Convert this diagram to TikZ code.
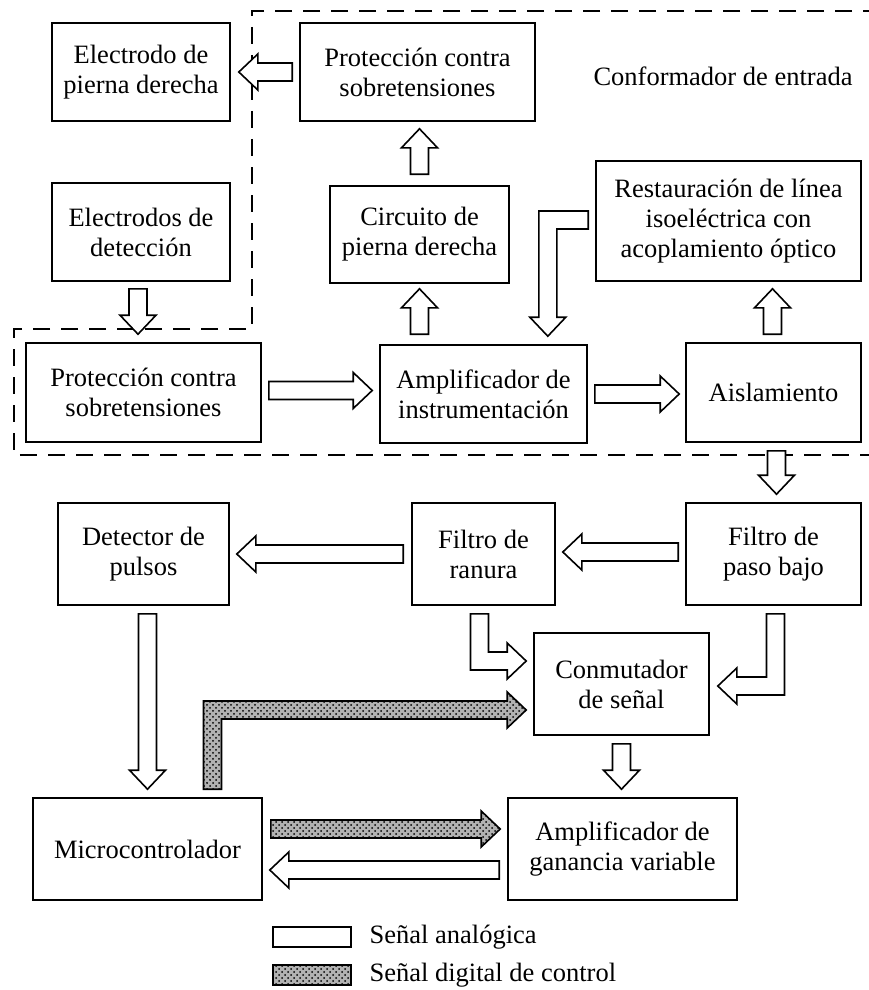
\documentclass[tikz,border=0pt]{standalone}
\usepackage{fontspec}
\setmainfont{Liberation Serif}
\usetikzlibrary{calc, patterns, positioning}

% block arrow sizes
\newcommand{\arrsw}{4.5pt}
\newcommand{\arrhw}{9pt}
\newcommand{\arrhl}{9.5pt}

% straight block arrow: start, tip
\newcommand{\sarrow}[3][analog]{%
  \draw[#1] let \p1=#2, \p2=#3, \n1={atan2(\y2-\y1,\x2-\x1)} in
    ($(\p1)+(\n1+90:\arrsw)$) -- ($(\p2)+(\n1+180:\arrhl)+(\n1+90:\arrsw)$)
    -- ($(\p2)+(\n1+180:\arrhl)+(\n1+90:\arrhw)$) -- (\p2)
    -- ($(\p2)+(\n1+180:\arrhl)+(\n1-90:\arrhw)$) -- ($(\p2)+(\n1+180:\arrhl)+(\n1-90:\arrsw)$)
    -- ($(\p1)+(\n1-90:\arrsw)$) -- cycle;}

% bent block arrow: start, corner, tip
\newcommand{\larrow}[4][analog]{%
  \draw[#1] let \p1=#2, \p2=#3, \p3=#4,
    \n1={atan2(\y2-\y1,\x2-\x1)}, \n2={atan2(\y3-\y2,\x3-\x2)} in
    ($(\p1)+(\n1+90:\arrsw)$) -- ($(\p2)+(\n1+90:\arrsw)+(\n2+90:\arrsw)$)
    -- ($(\p3)+(\n2+180:\arrhl)+(\n2+90:\arrsw)$) -- ($(\p3)+(\n2+180:\arrhl)+(\n2+90:\arrhw)$)
    -- (\p3) -- ($(\p3)+(\n2+180:\arrhl)+(\n2-90:\arrhw)$) -- ($(\p3)+(\n2+180:\arrhl)+(\n2-90:\arrsw)$)
    -- ($(\p2)+(\n1-90:\arrsw)+(\n2-90:\arrsw)$) -- ($(\p1)+(\n1-90:\arrsw)$) -- cycle;}

\begin{document}
\begin{tikzpicture}[x=0.5pt, y=-0.5pt, line width=0.8pt,
    txt/.style={font=\fontsize{13.25}{15}\selectfont},
    block/.style={draw, txt, align=center, inner sep=0pt},
    bsize/.style 2 args={minimum width=#1*0.5pt, minimum height=#2*0.5pt},
    analog/.style={draw, fill=white},
    digital/.style={draw, fill=black!30, postaction={pattern=crosshatch dots}}]
  \useasboundingbox (0,0) rectangle (868,990);

  % input stage region
  \draw[dash pattern=on 8.5pt off 5.5pt] (880,11) -- (252,11) -- (252,329) -- (14,329)
    -- (14,455) -- (880,455);
  \node[txt] (conf) at (723,76) {Conformador de entrada};

  % input stage blocks
  \node[block, bsize={178}{98}] (elpd) at (141,72) {Electrodo de\\pierna derecha};
  \node[block, bsize={235}{98}] (prot1) at (417.5,72) {Protección contra\\sobretensiones};
  \node[block, bsize={178}{98}] (eldet) at (141,232) {Electrodos de\\detección};
  \node[block, bsize={179}{97}] (circ) at (419.5,234.5) {Circuito de\\pierna derecha};
  \node[block, bsize={265}{120}] (rest) at (728.5,221) {Restauración de línea\\isoeléctrica con\\acoplamiento óptico};
  \node[block, bsize={235}{99}] (prot2) at (143.5,392.5) {Protección contra\\sobretensiones};
  \node[block, bsize={207}{98}] (ampi) at (483.5,394) {Amplificador de\\instrumentación};
  \node[block, bsize={175}{99}] (aisl) at (773.5,392.5) {Aislamiento};

  % processing blocks
  \node[block, bsize={171}{102}] (detp) at (143.5,554) {Detector de\\pulsos};
  \node[block, bsize={143}{102}] (fran) at (483.5,554) {Filtro de\\ranura};
  \node[block, bsize={175}{102}] (fpb) at (773.5,554) {Filtro de\\paso bajo};
  \node[block, bsize={175}{102}] (conm) at (621.5,684) {Conmutador\\de señal};
  \node[block, bsize={229}{102}] (micro) at (147.5,849) {Microcontrolador};
  \node[block, bsize={229}{102}] (ampg) at (622.5,849) {Amplificador de\\ganancia variable};

  % arrows, input stage
  \sarrow{($(prot1.west)+(-7,0)$)}{($(elpd.east)+(8,0)$)}
  \sarrow{($(circ.north)+(0,-11)$)}{($(prot1.south -| circ.north)+(0,7)$)}
  \sarrow{($(circ.south |- ampi.north)+(0,-10)$)}{($(circ.south)+(0,5)$)}
  \sarrow{($(eldet.south)+(-3,7)$)}{($(eldet.south |- prot2.north)+(-3,-8)$)}
  \sarrow{($(prot2.east)+(7,-2)$)}{($(prot2.east -| ampi.west)+(-7,-2)$)}
  \sarrow{($(ampi.east)+(7,0)$)}{($(ampi.east -| aisl.west)+(-6,0)$)}
  \sarrow{($(aisl.north)+(-1,-8)$)}{($(aisl.north |- rest.south)+(-1,7)$)}
  \larrow{($(rest.west)+(-7,-1)$)}{($(rest.west -| ampi.east)+(-40,-1)$)}{($(ampi.north east)+(-40,-8)$)}

  % arrows, processing
  \sarrow{($(aisl.south)+(3,8)$)}{($(aisl.south |- fpb.north)+(3,-8)$)}
  \sarrow{($(fpb.west)+(-7,-2)$)}{($(fpb.west -| fran.east)+(7,-2)$)}
  \sarrow{($(fran.west)+(-8,0)$)}{($(fran.west -| detp.east)+(7,0)$)}
  \larrow{($(fran.south)+(-4,8)$)}{($(fran.south |- conm.west)+(-4,-23)$)}{($(conm.west)+(-7,-23)$)}
  \larrow{($(fpb.south)+(2,8)$)}{($(fpb.south |- conm.east)+(2,2)$)}{($(conm.east)+(8,2)$)}
  \sarrow{($(conm.south)+(0,8)$)}{($(conm.south |- ampg.north)+(0,-8)$)}
  \sarrow{($(micro.north |- detp.south)+(0,8)$)}{($(micro.north)+(0,-8)$)}
  \larrow[digital]{($(micro.north)+(65,-8)$)}{($(micro.north |- conm.west)+(65,26)$)}{($(conm.west)+(-7,26)$)}
  \sarrow[digital]{($(micro.east)+(8,-20)$)}{($(micro.east -| ampg.west)+(-7,-20)$)}
  \sarrow{($(ampg.west)+(-8,21)$)}{($(ampg.west -| micro.east)+(7,21)$)}

  % legend
  \node[analog, inner sep=0pt, bsize={78}{20}] (legA) at (312,937) {};
  \node[digital, inner sep=0pt, bsize={78}{20}] (legD) at (312,975) {};
  \node[txt, inner sep=0pt, right=8.5pt of legA] (legAt) {Señal analógica};
  \node[txt, inner sep=0pt, right=8.5pt of legD] (legDt) {Señal digital de control};
\end{tikzpicture}
\end{document}
